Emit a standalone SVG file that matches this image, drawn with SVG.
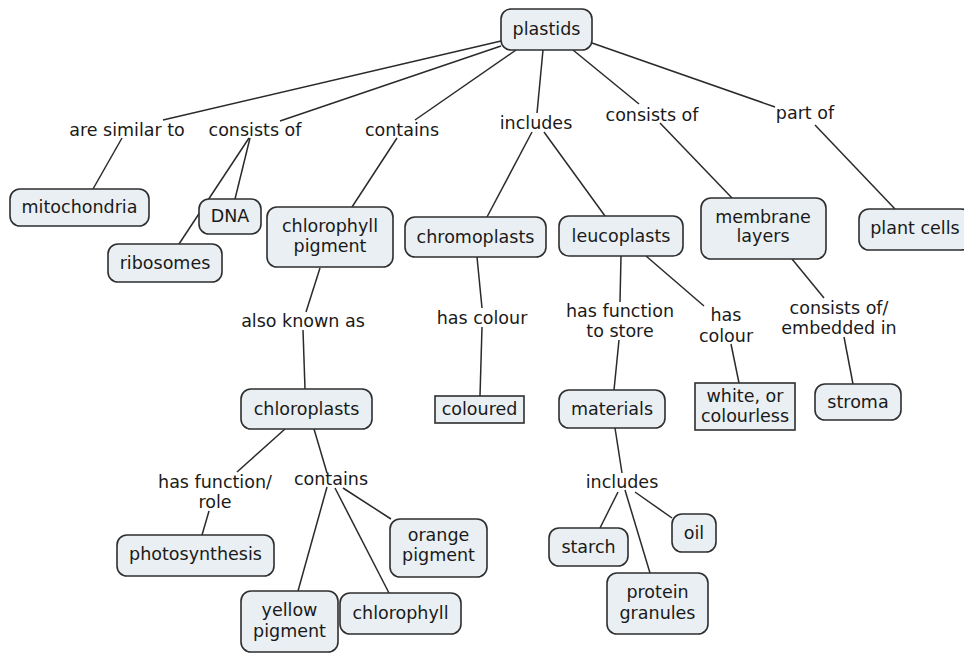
<svg xmlns="http://www.w3.org/2000/svg" width="964" height="653" viewBox="0 0 964 653">
<style>
.n rect{fill:#e9eff2;stroke:#2e2e2e;stroke-width:1.6}
text{font-family:"DejaVu Sans","Liberation Sans",sans-serif;font-size:17.5px;fill:#1a1a1a;text-anchor:middle}
#links line{stroke:#2a2a2a;stroke-width:1.5}
</style>
<rect width="964" height="653" fill="#ffffff"/>
<g id="links">
<line x1="501" y1="41" x2="163" y2="120"/>
<line x1="501" y1="46" x2="280" y2="121"/>
<line x1="516" y1="50" x2="415" y2="120"/>
<line x1="543" y1="50" x2="537" y2="113"/>
<line x1="573" y1="50" x2="639" y2="104"/>
<line x1="592" y1="43" x2="775" y2="107"/>
<line x1="122" y1="138" x2="93" y2="189"/>
<line x1="250" y1="138" x2="235" y2="199"/>
<line x1="249" y1="138" x2="179" y2="244"/>
<line x1="397" y1="138" x2="352" y2="207"/>
<line x1="320" y1="268" x2="306" y2="312"/>
<line x1="303" y1="330" x2="305" y2="389"/>
<line x1="532" y1="132" x2="487" y2="217"/>
<line x1="544" y1="132" x2="605" y2="216"/>
<line x1="660" y1="123" x2="732" y2="198"/>
<line x1="815" y1="125" x2="895" y2="209"/>
<line x1="477" y1="257" x2="482" y2="308"/>
<line x1="482" y1="327" x2="480" y2="396"/>
<line x1="621" y1="256" x2="620" y2="302"/>
<line x1="619" y1="340" x2="614" y2="390"/>
<line x1="646" y1="256" x2="704" y2="306"/>
<line x1="731" y1="344" x2="739" y2="383"/>
<line x1="792" y1="259" x2="824" y2="298"/>
<line x1="844" y1="337" x2="853" y2="384"/>
<line x1="285" y1="429" x2="237" y2="472"/>
<line x1="209" y1="511" x2="202" y2="535"/>
<line x1="314" y1="429" x2="327" y2="473"/>
<line x1="327" y1="487" x2="298" y2="591"/>
<line x1="335" y1="488" x2="389" y2="593"/>
<line x1="343" y1="488" x2="391" y2="519"/>
<line x1="615" y1="428" x2="622" y2="473"/>
<line x1="618" y1="492" x2="600" y2="528"/>
<line x1="625" y1="490" x2="650" y2="573"/>
<line x1="635" y1="492" x2="672" y2="518"/>
</g>
<g id="labels">
<text x="127" y="136">are similar to</text>
<text x="255" y="136">consists of</text>
<text x="402" y="136">contains</text>
<text x="536" y="129">includes</text>
<text x="652" y="121">consists of</text>
<text x="805" y="119">part of</text>
<text x="303" y="327">also known as</text>
<text x="482" y="324">has colour</text>
<text x="620" y="317">has function</text>
<text x="620" y="337">to store</text>
<text x="726" y="321">has</text>
<text x="726" y="342">colour</text>
<text x="839" y="314">consists of/</text>
<text x="839" y="334">embedded in</text>
<text x="215" y="488">has function/</text>
<text x="215" y="508">role</text>
<text x="331" y="485">contains</text>
<text x="622" y="488">includes</text>
</g>
<g id="plastids" class="n"><rect x="501" y="9" width="91" height="41" rx="10"/><text x="546.5" y="35">plastids</text></g>
<g id="mitochondria" class="n"><rect x="10" y="189" width="139" height="37" rx="10"/><text x="79.5" y="213">mitochondria</text></g>
<g id="dna" class="n"><rect x="199" y="199" width="62" height="35" rx="10"/><text x="230" y="222">DNA</text></g>
<g id="ribosomes" class="n"><rect x="108" y="244" width="114" height="38" rx="10"/><text x="165" y="269">ribosomes</text></g>
<g id="chlorophyll-pigment" class="n"><rect x="267" y="207" width="126" height="60" rx="10"/><text x="330" y="232">chlorophyll</text><text x="330" y="252">pigment</text></g>
<g id="chromoplasts" class="n"><rect x="405" y="217" width="141" height="40" rx="10"/><text x="475.5" y="243">chromoplasts</text></g>
<g id="leucoplasts" class="n"><rect x="559" y="216" width="124" height="40" rx="10"/><text x="621" y="242">leucoplasts</text></g>
<g id="membrane-layers" class="n"><rect x="701" y="198" width="125" height="61" rx="10"/><text x="763" y="223">membrane</text><text x="763" y="242">layers</text></g>
<g id="plant-cells" class="n"><rect x="859" y="209" width="112" height="41" rx="10"/><text x="915" y="234">plant cells</text></g>
<g id="chloroplasts" class="n"><rect x="241" y="389" width="131" height="40" rx="10"/><text x="306.5" y="415">chloroplasts</text></g>
<g id="coloured" class="n"><rect x="435" y="396" width="89" height="27" rx="0"/><text x="479.5" y="415">coloured</text></g>
<g id="materials" class="n"><rect x="559" y="390" width="106" height="38" rx="10"/><text x="612" y="415">materials</text></g>
<g id="white-colourless" class="n"><rect x="695" y="383" width="100" height="47" rx="0"/><text x="745" y="402">white, or</text><text x="745" y="422">colourless</text></g>
<g id="stroma" class="n"><rect x="815" y="384" width="86" height="36" rx="10"/><text x="858" y="408">stroma</text></g>
<g id="photosynthesis" class="n"><rect x="117" y="535" width="157" height="41" rx="10"/><text x="195.5" y="560">photosynthesis</text></g>
<g id="yellow-pigment" class="n"><rect x="241" y="591" width="97" height="61" rx="10"/><text x="289.5" y="616">yellow</text><text x="289.5" y="637">pigment</text></g>
<g id="chlorophyll" class="n"><rect x="340" y="593" width="121" height="41" rx="10"/><text x="400.5" y="619">chlorophyll</text></g>
<g id="orange-pigment" class="n"><rect x="390" y="519" width="97" height="58" rx="10"/><text x="438.5" y="541">orange</text><text x="438.5" y="561">pigment</text></g>
<g id="starch" class="n"><rect x="549" y="528" width="79" height="38" rx="10"/><text x="588.5" y="553">starch</text></g>
<g id="oil" class="n"><rect x="672" y="514" width="44" height="38" rx="10"/><text x="694" y="539">oil</text></g>
<g id="protein-granules" class="n"><rect x="607" y="573" width="101" height="61" rx="10"/><text x="657.5" y="598">protein</text><text x="657.5" y="619">granules</text></g>
</svg>
